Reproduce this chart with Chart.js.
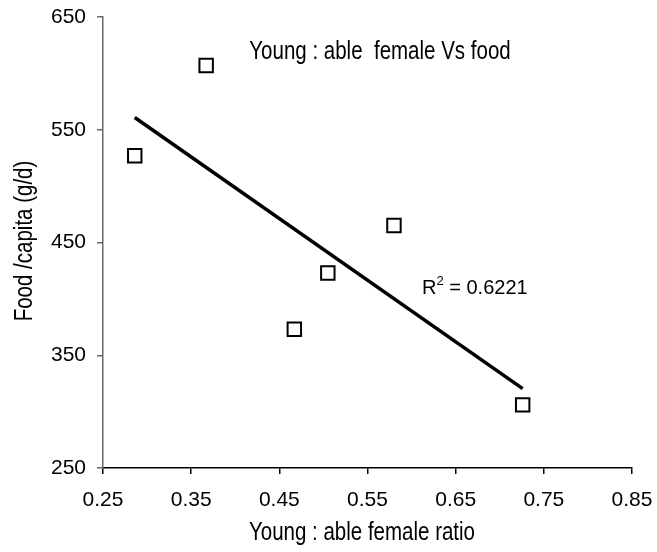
<!DOCTYPE html>
<html>
<head>
<meta charset="utf-8">
<script src="https://cdn.jsdelivr.net/npm/chart.js@4"></script>
<style>
  html, body { margin: 0; padding: 0; background: #fff; }
  #wrap { width: 657px; height: 552px; }
</style>
</head>
<body>
<div id="wrap"><canvas id="Chart" width="657" height="552"></canvas></div>
<script>
// young : able female ratio vs food per capita
const ratio = [0.286, 0.367, 0.467, 0.505, 0.580, 0.726];
const food = [527, 607, 373, 423, 465, 306];
const xTicks = [0.25, 0.35, 0.45, 0.55, 0.65, 0.75, 0.85];
const yTicks = [250, 350, 450, 550, 650];
const chartTitle = 'Young : able  female Vs food';
const xTitle = 'Young : able female ratio';
const yTitle = 'Food /capita (g/d)';
const r2Text = '0.6221';

const regular = "'Liberation Sans', Arial, sans-serif";

// least squares trend line over the data range
function trend(xs, ys) {
  const n = xs.length;
  const mx = xs.reduce((a, b) => a + b, 0) / n;
  const my = ys.reduce((a, b) => a + b, 0) / n;
  let sxy = 0, sxx = 0;
  for (let i = 0; i < n; i++) {
    sxy += (xs[i] - mx) * (ys[i] - my);
    sxx += (xs[i] - mx) * (xs[i] - mx);
  }
  const b = sxy / sxx;
  const a = my - b * mx;
  const x0 = Math.min(...xs), x1 = Math.max(...xs);
  return [{ x: x0, y: a + b * x0 }, { x: x1, y: a + b * x1 }];
}

// narrow text: no narrow font installed, so squeeze the regular one
function narrowText(c, text, x, y, rot) {
  c.save();
  c.translate(x, y);
  if (rot) c.rotate(rot);
  c.scale(0.82, 1);
  c.font = '25px ' + regular;
  c.textAlign = 'center';
  c.textBaseline = 'middle';
  c.fillText(text, 0, 0);
  c.restore();
}

const textPlugin = {
  id: 'texts',
  afterDraw(chart) {
    const c = chart.ctx;
    const area = chart.chartArea;
    c.save();
    c.fillStyle = '#000';

    narrowText(c, chartTitle, 380, 52, 0);
    narrowText(c, xTitle, 362, 533, 0);
    narrowText(c, yTitle, 25, 241, -Math.PI / 2);

    // R squared label with superscript
    c.textBaseline = 'middle';
    c.textAlign = 'left';
    let x = 422;
    const y = 288;
    c.font = '20px ' + regular;
    c.fillText('R', x, y);
    x += c.measureText('R').width;
    c.font = '13px ' + regular;
    c.fillText('2', x, y - 7);
    x += c.measureText('2').width;
    c.font = '20px ' + regular;
    c.fillText(' = ' + r2Text, x, y);
    c.restore();
  }
};

const ctx = document.getElementById('Chart');

new Chart(ctx, {
  type: 'scatter',
  data: {
    datasets: [{
      label: 'points',
      data: ratio.map((v, i) => ({ x: v, y: food[i] })),
      pointStyle: 'rect',
      pointRadius: 9.5,
      pointHoverRadius: 9.5,
      pointBorderWidth: 2,
      pointBorderColor: '#000',
      pointBackgroundColor: '#fff'
    }, {
      label: 'trend',
      type: 'line',
      data: trend(ratio, food),
      borderColor: '#000',
      borderWidth: 3.5,
      pointRadius: 0,
      fill: false,
      order: 1
    }]
  },
  options: {
    responsive: false,
    animation: false,
    layout: { padding: { top: 17, right: 25, left: 0, bottom: 0 } },
    plugins: {
      legend: { display: false },
      tooltip: { enabled: false }
    },
    scales: {
      x: {
        type: 'linear',
        min: 0.25,
        max: 0.85,
        afterBuildTicks: s => { s.ticks = xTicks.map(v => ({ value: v })); },
        afterFit: s => {
          s.height = 84;
          s.paddingLeft = 0;
          s.paddingRight = 0;
        },
        border: { display: true, color: '#000', width: 1.5 },
        grid: { drawOnChartArea: false, drawTicks: true, tickLength: 6, color: '#000', lineWidth: 1.5 },
        ticks: {
          padding: 14,
          color: '#000',
          font: { family: regular, size: 21 },
          callback: v => v.toFixed(2)
        }
      },
      y: {
        min: 250,
        max: 650,
        afterBuildTicks: s => { s.ticks = yTicks.map(v => ({ value: v })); },
        afterFit: s => {
          s.width = 103;
          s.paddingTop = 0;
          s.paddingBottom = 0;
        },
        border: { display: true, color: '#666', width: 1.5 },
        grid: { drawOnChartArea: false, drawTicks: true, tickLength: 6, color: '#666', lineWidth: 1.5 },
        ticks: {
          padding: 11,
          color: '#000',
          font: { family: regular, size: 21 }
        }
      }
    }
  },
  plugins: [textPlugin]
});
</script>
</body>
</html>
